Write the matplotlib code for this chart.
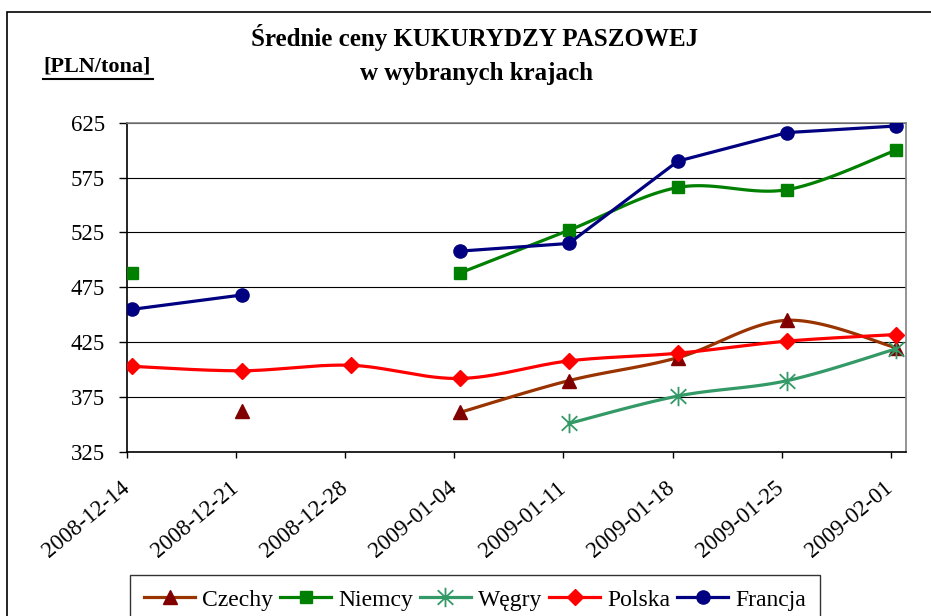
import numpy as np
import matplotlib
matplotlib.use("Agg")
import matplotlib.pyplot as plt
import matplotlib.transforms as mtransforms
from matplotlib.path import Path
from matplotlib.patches import Rectangle

dates = ["2008-12-14", "2008-12-21", "2008-12-28", "2009-01-04",
         "2009-01-11", "2009-01-18", "2009-01-25", "2009-02-01"]
nan = np.nan
czechy = [nan, 362, nan, 361, 390, 411, 445, 420]
niemcy = [488, nan, nan, 488, 527, 566, 564, 600]
wegry = [nan, nan, nan, nan, 351, 376, 390, 419]
polska = [403, 399, 404, 392, 408, 415, 426, 432]
francja = [455, 468, nan, 508, 515, 590, 616, 622]

yticks = [325, 375, 425, 475, 525, 575, 625]

plt.rcParams['font.family'] = ['Liberation Serif', 'DejaVu Serif']

fig = plt.figure(figsize=(9.31, 6.16), dpi=100)
ax = fig.add_axes([127/931, 1-452/616, (906-127)/931, (452-122.7)/616])

# outer chart frame
fig.patches.append(Rectangle((7/931, -0.2), 2, 0.2 + 1 - 12/616, transform=fig.transFigure,
                             fill=False, edgecolor='black', lw=1.2, clip_on=False))

# asterisk marker: vertical + two diagonals
ast = Path([(0, -1), (0, 1), (-0.8, -0.75), (0.8, 0.75), (-0.8, 0.75), (0.8, -0.75)],
           [Path.MOVETO, Path.LINETO, Path.MOVETO, Path.LINETO, Path.MOVETO, Path.LINETO])

off = 0.05
x = np.arange(len(dates)) + off


def smooth_segments(xs, ys):
    xs = np.asarray(xs, float); ys = np.asarray(ys, float)
    segs = []
    cur = []
    for i in range(len(xs)):
        if np.isnan(ys[i]):
            if cur: segs.append(cur); cur = []
        else:
            cur.append(i)
    if cur: segs.append(cur)
    out = []
    for s in segs:
        if len(s) < 2:
            continue
        P = np.column_stack([xs[s], ys[s]])
        ptsx, ptsy = [], []
        n = len(P)
        for i in range(n - 1):
            p0 = P[i - 1] if i > 0 else P[i]
            p1 = P[i]; p2 = P[i + 1]
            p3 = P[i + 2] if i + 2 < n else P[i + 1]
            c1 = p1 + (p2 - p0) / 6
            c2 = p2 - (p3 - p1) / 6
            t = np.linspace(0, 1, 30)[:, None]
            b = ((1 - t) ** 3) * p1 + 3 * ((1 - t) ** 2) * t * c1 + 3 * (1 - t) * t ** 2 * c2 + t ** 3 * p2
            ptsx.extend(b[:, 0]); ptsy.extend(b[:, 1])
        out.append((ptsx, ptsy))
    return out


series = [
    ("Czechy", czechy, '#993300', '#800000', '^', 10, True),
    ("Niemcy", niemcy, '#008000', '#008000', 's', 9, True),
    ("Węgry", wegry, '#339966', '#339966', ast, 14, True),
    ("Polska", polska, '#FF0000', '#FF0000', 'D', 8.5, True),
    ("Francja", francja, '#000080', '#000080', 'o', 9.5, False),
]

handles = []
for k, (name, vals, lc, mc, mk, ms, smooth) in enumerate(series):
    z = 3 + k
    if smooth:
        for sx, sy in smooth_segments(x, vals):
            ax.plot(sx, sy, color=lc, lw=2.3, zorder=z, solid_capstyle='round')
    else:
        ax.plot(x, vals, color=lc, lw=2.3, zorder=z)
    if mk is ast:
        ax.plot(x, vals, ls='none', marker=mk, ms=ms, mec=mc, mfc='none', mew=1.3, zorder=z + 0.5)
    else:
        ax.plot(x, vals, ls='none', marker=mk, ms=ms, mec=mc, mfc=mc, zorder=z + 0.5)
    h, = ax.plot([], [], color=lc, lw=2.3, marker=mk, ms=ms, mec=mc,
                 mfc=('none' if mk is ast else mc), mew=(1.3 if mk is ast else 1))
    handles.append((h, name))

ax.set_ylim(325, 625)
ax.set_xlim(0, (906 - 127) / 109.1)
ax.set_yticks(yticks)
ax.set_yticklabels([str(v) for v in yticks], fontsize=16.5)
ax.set_xticks(np.arange(len(dates)))
ax.set_xticklabels(dates, rotation=40, ha='right', va='top', rotation_mode='anchor', fontsize=16.5)
ax.tick_params(axis='y', direction='out', length=6, width=1, color='black', pad=10)
ax.tick_params(axis='x', direction='out', length=4.5, width=1, color='black', pad=14)
shift = mtransforms.ScaledTranslation(-7/100, 0, fig.dpi_scale_trans)
for lab in ax.get_xticklabels():
    lab.set_transform(lab.get_transform() + shift)
for v in yticks:
    ax.axhline(v, color='black', lw=0.8, zorder=1)
for sname in ['top', 'right']:
    ax.spines[sname].set_color('#808080')
    ax.spines[sname].set_linewidth(1.2)
for sname in ['left', 'bottom']:
    ax.spines[sname].set_color('black')
    ax.spines[sname].set_linewidth(1.2)
ax.set_facecolor('white')

fig.text(474/931, 1 - 46/616, "Średnie ceny KUKURYDZY PASZOWEJ", ha='center', va='baseline',
         fontsize=18, fontweight='bold')
fig.text(476/931, 1 - 80/616, "w wybranych krajach", ha='center', va='baseline',
         fontsize=18, fontweight='bold')
fig.text(97/931, 1 - 72/616, "[PLN/tona]", ha='center', va='baseline', fontsize=16, fontweight='bold')
fig.add_artist(plt.Line2D([43/931, 153/931], [1 - 78.5/616, 1 - 78.5/616], color='black', lw=1.5))

leg = fig.legend([h for h, _ in handles], [n for _, n in handles], loc='upper center',
                 bbox_to_anchor=(475/931, 1 - 575/616), ncol=5, fontsize=17,
                 frameon=True, fancybox=False, edgecolor='black', handlelength=2.15,
                 handletextpad=0.3, columnspacing=0.3, borderpad=0.6, borderaxespad=0)
leg.get_frame().set_linewidth(1.0)

fig.savefig("out.png", dpi=100)
